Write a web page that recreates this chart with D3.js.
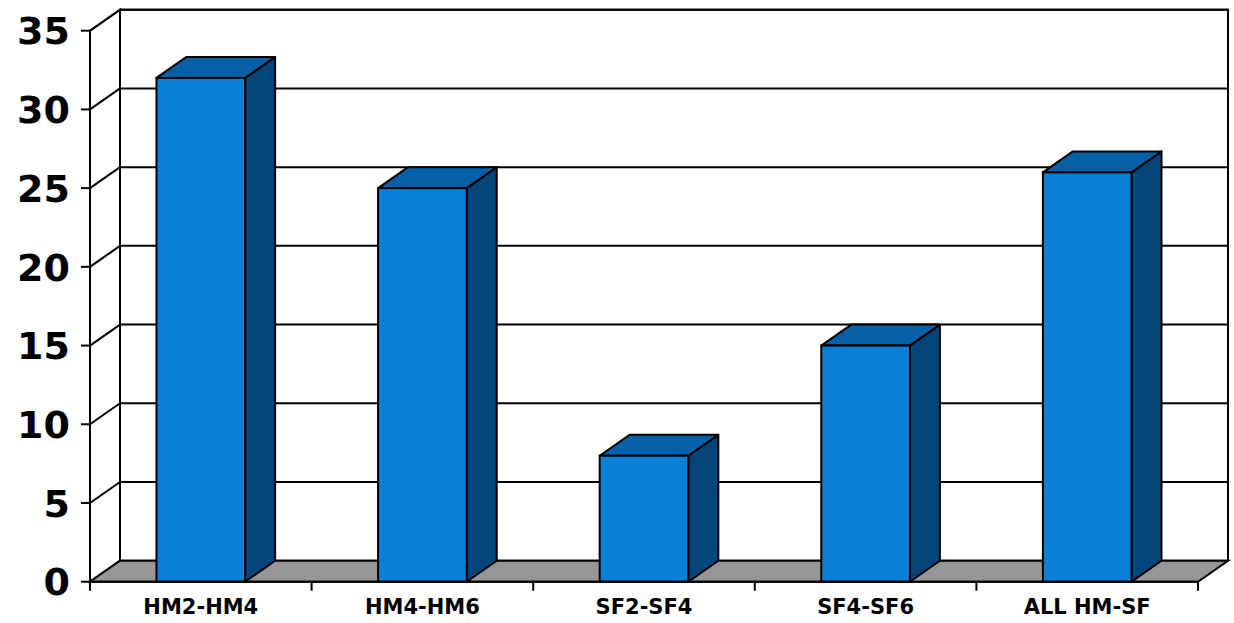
<!DOCTYPE html>
<html>
<head>
<meta charset="utf-8">
<script src="https://cdn.jsdelivr.net/npm/d3@7"></script>
<style>
  html, body { margin: 0; padding: 0; background: #fff; }
  svg { display: block; }
  text { font-family: "DejaVu Sans", Verdana, sans-serif; font-weight: bold; fill: #000; }
</style>
</head>
<body>
<svg id="chart" width="1234" height="623"></svg>
<script>
// Chart data
const categories = ["HM2-HM4", "HM4-HM6", "SF2-SF4", "SF4-SF6", "ALL HM-SF"];
const values = [32, 25, 8, 15, 26];
const yTicks = [0, 5, 10, 15, 20, 25, 30, 35];

const W = 1234, H = 623;
const left = 90, right = 1198;          // front plane x extent
const yBottom = 581.7, yTop = 30.7;     // front plane y extent
const depth = { dx: 30, dy: -21 };      // 3D depth offset

const svg = d3.select("#chart");

const x = d3.scaleBand()
  .domain(categories)
  .range([left, right])
  .paddingInner(0.6)
  .paddingOuter(0.3);

const y = d3.scaleLinear().domain([0, 35]).range([yBottom, yTop]);
const yBack = v => y(v) + depth.dy;

const colors = {
  front: "#0a7fd6",
  top: "#0560a8",
  side: "#03457a",
  floor: "#969696",
  line: "#000"
};

const poly = pts => pts.map(p => p.join(",")).join(" ");

// Back wall
const bx0 = left + depth.dx, bx1 = right + depth.dx;
svg.append("rect")
  .attr("x", bx0).attr("y", yBack(35))
  .attr("width", bx1 - bx0).attr("height", yBack(0) - yBack(35))
  .attr("fill", "#fff").attr("stroke", colors.line).attr("stroke-width", 2);

// Back-wall gridlines
svg.append("g").selectAll("line").data(yTicks.filter(v => v > 0)).join("line")
  .attr("x1", bx0).attr("x2", bx1)
  .attr("y1", d => yBack(d)).attr("y2", d => yBack(d))
  .attr("stroke", colors.line).attr("stroke-width", 2);

// Left side wall
svg.append("polygon")
  .attr("points", poly([[left, y(0)], [left, y(35)], [bx0, yBack(35)], [bx0, yBack(0)]]))
  .attr("fill", "#fff").attr("stroke", colors.line).attr("stroke-width", 2);

svg.append("g").selectAll("line").data(yTicks).join("line")
  .attr("x1", left).attr("x2", bx0)
  .attr("y1", d => y(d)).attr("y2", d => yBack(d))
  .attr("stroke", colors.line).attr("stroke-width", 2);

// Floor
svg.append("polygon")
  .attr("points", poly([[left, y(0)], [right, y(0)], [bx1, yBack(0)], [bx0, yBack(0)]]))
  .attr("fill", colors.floor).attr("stroke", colors.line).attr("stroke-width", 2)
  .attr("stroke-linejoin", "miter");

// Bars
const bars = svg.append("g").selectAll("g").data(categories.map((c, i) => ({ c, v: values[i] })))
  .join("g");

bars.each(function(d) {
  const g = d3.select(this);
  const x0 = x(d.c), x1 = x(d.c) + x.bandwidth();
  const yt = y(d.v), yb = y(0);
  const { dx, dy } = depth;
  // side face
  g.append("polygon")
    .attr("points", poly([[x1, yt], [x1 + dx, yt + dy], [x1 + dx, yb + dy], [x1, yb]]))
    .attr("fill", colors.side).attr("stroke", colors.line).attr("stroke-width", 2)
    .attr("stroke-linejoin", "round");
  // top face
  g.append("polygon")
    .attr("points", poly([[x0, yt], [x0 + dx, yt + dy], [x1 + dx, yt + dy], [x1, yt]]))
    .attr("fill", colors.top).attr("stroke", colors.line).attr("stroke-width", 2)
    .attr("stroke-linejoin", "round");
  // front face
  g.append("rect")
    .attr("x", x0).attr("y", yt)
    .attr("width", x1 - x0).attr("height", yb - yt)
    .attr("fill", colors.front).attr("stroke", colors.line).attr("stroke-width", 2);
});

// Front axes
svg.append("line")
  .attr("x1", left).attr("x2", left).attr("y1", y(35)).attr("y2", y(0))
  .attr("stroke", colors.line).attr("stroke-width", 2);
svg.append("line")
  .attr("x1", left).attr("x2", right).attr("y1", y(0)).attr("y2", y(0))
  .attr("stroke", colors.line).attr("stroke-width", 2);

// Y ticks and labels
const yAxis = svg.append("g");
yAxis.selectAll("line").data(yTicks).join("line")
  .attr("x1", left - 9).attr("x2", left)
  .attr("y1", d => y(d)).attr("y2", d => y(d))
  .attr("stroke", colors.line).attr("stroke-width", 2);
yAxis.selectAll("text").data(yTicks).join("text")
  .attr("x", 70).attr("y", d => y(d)).attr("dy", "0.36em")
  .attr("text-anchor", "end")
  .style("font-size", "38px")
  .text(d => d);

// X ticks at category boundaries and labels
const step = x.step();
const boundaries = d3.range(categories.length + 1).map(i => left + i * step);
svg.append("g").selectAll("line").data(boundaries).join("line")
  .attr("x1", d => d).attr("x2", d => d)
  .attr("y1", y(0)).attr("y2", y(0) + 9)
  .attr("stroke", colors.line).attr("stroke-width", 2);

svg.append("g").selectAll("text").data(categories).join("text")
  .attr("x", d => x(d) + x.bandwidth() / 2)
  .attr("y", 614)
  .attr("text-anchor", "middle")
  .style("font-size", "21px")
  .text(d => d);
</script>
</body>
</html>
